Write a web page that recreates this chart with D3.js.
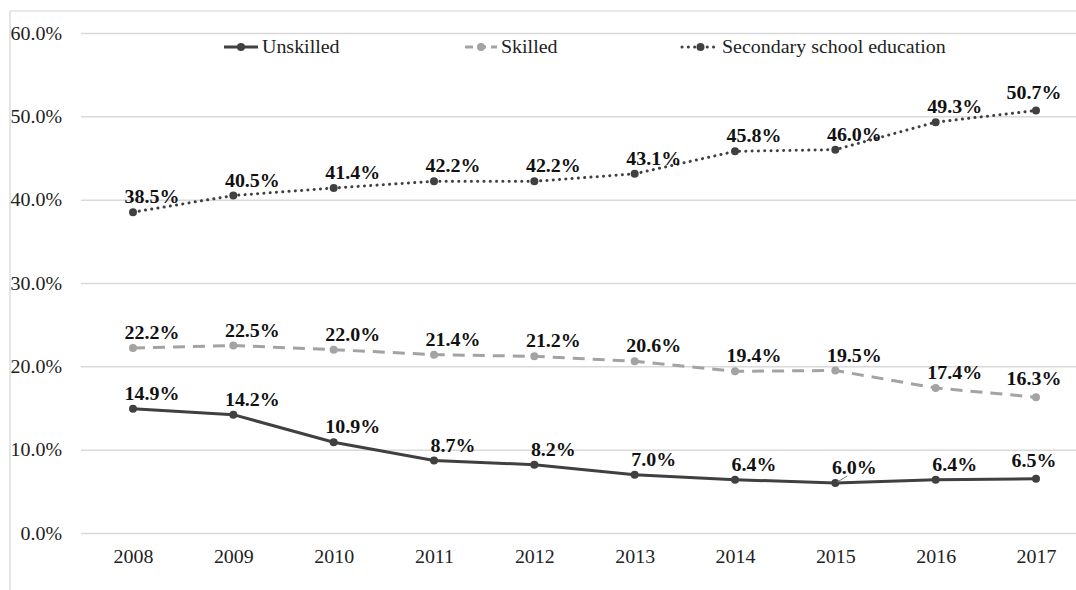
<!DOCTYPE html>
<html>
<head>
<meta charset="utf-8">
<script src="https://cdn.jsdelivr.net/npm/d3@7"></script>
<style>
  html, body { margin: 0; padding: 0; background: #fff; }
  svg { display: block; }
</style>
</head>
<body>
<svg id="chart" width="1076" height="590"></svg>
<script>
const years = ["2008","2009","2010","2011","2012","2013","2014","2015","2016","2017"];
const unskilled = [14.9, 14.2, 10.9, 8.7, 8.2, 7.0, 6.4, 6.0, 6.4, 6.5];
const skilled = [22.2, 22.5, 22.0, 21.4, 21.2, 20.6, 19.4, 19.5, 17.4, 16.3];
const secondary = [38.5, 40.5, 41.4, 42.2, 42.2, 43.1, 45.8, 46.0, 49.3, 50.7];
const yTicks = [0, 10, 20, 30, 40, 50, 60];
const seriesNames = ["Unskilled", "Skilled", "Secondary school education"];

const series = [
  { name: seriesNames[0], values: unskilled, color: "#404040", dash: null, cap: "butt" },
  { name: seriesNames[1], values: skilled, color: "#a3a3a3", dash: "12 8", cap: "butt" },
  { name: seriesNames[2], values: secondary, color: "#404040", dash: "0.1 6.2", cap: "round" }
];

const svg = d3.select("#chart");
const W = 1076, H = 590;
const SX = 1.05; // horizontal stretch of the original text rendering
const FS = 19;
const FONT = "'Liberation Serif', 'Times New Roman', serif";

const x = d3.scalePoint().domain(years).range([133, 1036]);
const y = d3.scaleLinear().domain([0, 60]).range([533, 33]);

// outer chart border (top and left visible)
svg.append("line").attr("x1", 10).attr("x2", W).attr("y1", 11).attr("y2", 11)
  .attr("stroke", "#d4d4d4").attr("stroke-width", 1.2);
svg.append("line").attr("x1", 10).attr("x2", 10).attr("y1", 11).attr("y2", H)
  .attr("stroke", "#d4d4d4").attr("stroke-width", 1.2);

// gridlines + y axis labels
const yAxis = d3.axisLeft(y).tickValues(yTicks).tickSize(-(W - 81)).tickFormat(d => d3.format(".1f")(d) + "%");
const gy = svg.append("g").attr("transform", "translate(81,0)").call(yAxis);
gy.select(".domain").remove();
gy.selectAll(".tick line").attr("stroke", "#d9d9d9").attr("stroke-width", 1.5);
gy.selectAll(".tick text")
  .attr("x", null).attr("dy", null)
  .attr("text-anchor", "end")
  .attr("font-family", FONT).attr("font-size", FS).attr("fill", "#222")
  .attr("transform", `translate(-19,6) scale(${SX},1)`);

// x axis labels
const xAxis = d3.axisBottom(x).tickSize(0).tickPadding(0);
const gx = svg.append("g").attr("transform", "translate(0,533)").call(xAxis);
gx.select(".domain").remove();
gx.selectAll(".tick text")
  .attr("y", null).attr("dy", null)
  .attr("text-anchor", "middle")
  .attr("font-family", FONT).attr("font-size", FS).attr("fill", "#222")
  .attr("transform", `translate(0,30) scale(${SX},1)`);

const line = d3.line().x((d, i) => x(years[i])).y(d => y(d));

series.forEach(s => {
  const g = svg.append("g");
  g.append("path").datum(s.values)
    .attr("d", line)
    .attr("fill", "none")
    .attr("stroke", s.color)
    .attr("stroke-width", 3)
    .attr("stroke-linecap", s.cap)
    .attr("stroke-dasharray", s.dash);
  g.selectAll("circle").data(s.values).join("circle")
    .attr("cx", (d, i) => x(years[i]))
    .attr("cy", d => y(d))
    .attr("r", 4)
    .attr("fill", s.color);
  g.selectAll("text").data(s.values).join("text")
    .attr("transform", (d, i) => {
      const last = i === years.length - 1;
      const tx = x(years[i]) + (last ? -2 : 19);
      const ty = y(d) - (last ? 12 : 9);
      return `translate(${tx},${ty}) scale(${SX},1)`;
    })
    .attr("text-anchor", "middle")
    .attr("font-family", FONT).attr("font-size", FS).attr("font-weight", "bold")
    .attr("fill", "#111")
    .text(d => d3.format(".1f")(d) + "%");
});

// small leader line on the 2015 Unskilled label
{
  const px = x("2015"), py = y(unskilled[7]);
  svg.append("line").attr("x1", px + 2).attr("y1", py - 1).attr("x2", px + 12).attr("y2", py - 7)
    .attr("stroke", "#808080").attr("stroke-width", 1);
}

// legend
const legendItems = [
  { s: series[0], x1: 224, x2: 258, tx: 262 },
  { s: series[1], x1: 465, x2: 497, tx: 501 },
  { s: series[2], x1: 682, x2: 719, tx: 722 }
];
const lg = svg.append("g");
legendItems.forEach(it => {
  lg.append("line").attr("x1", it.x1).attr("x2", it.x2).attr("y1", 47).attr("y2", 47)
    .attr("stroke", it.s.color).attr("stroke-width", 3)
    .attr("stroke-linecap", it.s.cap)
    .attr("stroke-dasharray", it.s.dash ? (it.s.cap === "round" ? "0.1 6.2" : "8 5") : null);
  lg.append("circle").attr("cx", (it.x1 + it.x2) / 2).attr("cy", 47).attr("r", 4).attr("fill", it.s.color);
  lg.append("text")
    .attr("transform", `translate(${it.tx},53) scale(${SX},1)`)
    .attr("font-family", FONT).attr("font-size", FS).attr("fill", "#222")
    .text(it.s.name);
});
</script>
</body>
</html>
